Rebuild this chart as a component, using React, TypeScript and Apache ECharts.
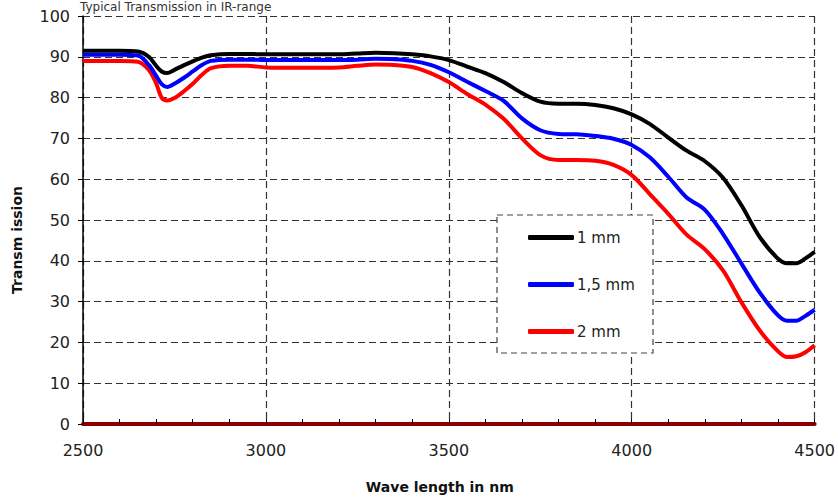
import React, { useEffect, useRef } from "react";
import * as echarts from "echarts";

const wavelengths = [2500, 2550, 2600, 2650, 2680, 2700, 2715, 2730, 2750, 2775, 2800, 2825, 2850, 2900, 2950, 3000, 3100, 3200, 3250, 3300, 3350, 3400, 3450, 3500, 3550, 3600, 3650, 3700, 3750, 3800, 3850, 3900, 3950, 4000, 4050, 4100, 4150, 4200, 4250, 4300, 4350, 4400, 4425, 4450, 4475, 4500];

const t1mm = [91.5, 91.5, 91.5, 91.3, 90.0, 87.8, 86.4, 86.0, 86.8, 87.9, 88.9, 89.8, 90.4, 90.7, 90.7, 90.6, 90.6, 90.6, 90.8, 91.0, 90.9, 90.6, 90.1, 89.2, 87.6, 86.0, 83.8, 81.1, 79.0, 78.5, 78.5, 78.2, 77.4, 75.9, 73.5, 70.2, 67.0, 64.4, 60.3, 53.6, 45.8, 40.5, 39.4, 39.4, 40.6, 42.2];

const t15mm = [90.5, 90.5, 90.5, 90.3, 88.0, 85.3, 83.3, 82.6, 83.4, 84.8, 86.4, 88.0, 89.0, 89.3, 89.3, 89.2, 89.2, 89.2, 89.3, 89.5, 89.4, 89.0, 88.0, 86.2, 83.9, 81.6, 79.2, 74.9, 72.0, 71.1, 71.0, 70.6, 69.9, 68.4, 65.3, 60.6, 55.5, 52.5, 46.5, 39.3, 32.2, 26.6, 25.3, 25.3, 26.5, 28.0];

const t2mm = [89.0, 89.0, 89.0, 88.8, 86.8, 83.5, 80.0, 79.3, 79.9, 81.5, 83.4, 85.6, 87.2, 87.8, 87.8, 87.4, 87.3, 87.4, 87.8, 88.1, 88.0, 87.5, 86.0, 83.8, 80.9, 78.3, 74.8, 70.0, 65.9, 64.7, 64.7, 64.5, 63.5, 61.0, 56.3, 51.5, 46.4, 42.8, 37.6, 29.8, 22.9, 17.8, 16.4, 16.6, 17.6, 19.3];

const seriesNames = ["1 mm", "1,5 mm", "2 mm"];
const seriesColors = ["#000000", "#0000ff", "#ff0000"];
const seriesValues = [t1mm, t15mm, t2mm];

const xTicks = [2500, 3000, 3500, 4000, 4500];
const titleText = "Typical Transmission in IR-range";
const xAxisTitle = "Wave length in nm";
const yAxisTitle = "Transm ission";

export default function App() {
  const ref = useRef<HTMLDivElement>(null);
  useEffect(() => {
    if (!ref.current) return;
    const chart = echarts.init(ref.current, null, { renderer: "svg" });
    const font = "DejaVu Sans";
    const series: any[] = seriesValues
      .map((vals, i) => ({
        name: seriesNames[i],
        type: "line",
        data: wavelengths.map((w, j) => [w, vals[j]]),
        showSymbol: false,
        smooth: 0.3,
        lineStyle: { color: seriesColors[i], width: 4 },
        itemStyle: { color: seriesColors[i] },
        z: 2 + (2 - i),
      }))
      .reverse();
    chart.setOption({
      animation: false,
      backgroundColor: "#ffffff",
      textStyle: { fontFamily: font },
      grid: { left: 83, right: 19, top: 16, bottom: 72, containLabel: false },
      xAxis: {
        type: "value",
        min: xTicks[0],
        max: xTicks[xTicks.length - 1],
        interval: 500,
        axisLine: { show: true, onZero: false, lineStyle: { color: "#8b0000", width: 4 } },
        axisTick: { show: true, inside: true, length: 5, lineStyle: { color: "#000", width: 1 } },
        minorTick: { show: true, splitNumber: 5, length: 5, lineStyle: { color: "#000", width: 1 } },
        axisLabel: { margin: 18, fontSize: 16, color: "#222", fontFamily: font, formatter: (v: number) => String(v) },
        splitLine: { show: true, lineStyle: { color: "#333", width: 1.2, type: [7, 4] } },
        name: xAxisTitle,
        nameLocation: "middle",
        nameGap: 56,
        nameTextStyle: { fontSize: 14, fontWeight: "bold", color: "#111", fontFamily: font, padding: [0, 18, 0, 0] },
      },
      yAxis: {
        type: "value",
        min: 0,
        max: 100,
        interval: 10,
        axisLine: { show: true, lineStyle: { color: "#000", width: 1.5 } },
        axisTick: { show: true, inside: false, length: 5, lineStyle: { color: "#000", width: 1 } },
        axisLabel: { margin: 13, fontSize: 16, color: "#222", fontFamily: font },
        splitLine: { show: true, lineStyle: { color: "#333", width: 1.2, type: [7, 4] } },
      },
      legend: {
        show: true,
        orient: "vertical",
        left: 523,
        top: 225,
        itemWidth: 46,
        itemHeight: 5,
        itemGap: 32,
        icon: "roundRect",
        data: seriesNames,
        textStyle: { fontSize: 15, color: "#222", fontFamily: font, padding: [0, 0, 0, -2] },
        z: 10,
      },
      graphic: [
        {
          type: "rect",
          z: 5,
          shape: { x: 497, y: 215, width: 156, height: 138 },
          style: { fill: "#ffffff", stroke: "#444", lineWidth: 1.2, lineDash: [6, 4] },
        },
        {
          type: "text",
          z: 5,
          x: 17,
          y: 240,
          rotation: Math.PI / 2,
          style: {
            text: yAxisTitle,
            fontSize: 14,
            fontWeight: "bold",
            fontFamily: font,
            fill: "#111",
            align: "center",
            verticalAlign: "middle",
          },
        },
        {
          type: "text",
          z: 5,
          x: 80,
          y: 1,
          style: {
            text: titleText,
            fontSize: 12,
            fontFamily: font,
            fill: "#333",
            align: "left",
            verticalAlign: "top",
          },
        },
      ],
      series,
    });
    return () => chart.dispose();
  }, []);
  return <div ref={ref} style={{ position: "fixed", left: 0, top: 0, width: 838, height: 499 }} />;
}
